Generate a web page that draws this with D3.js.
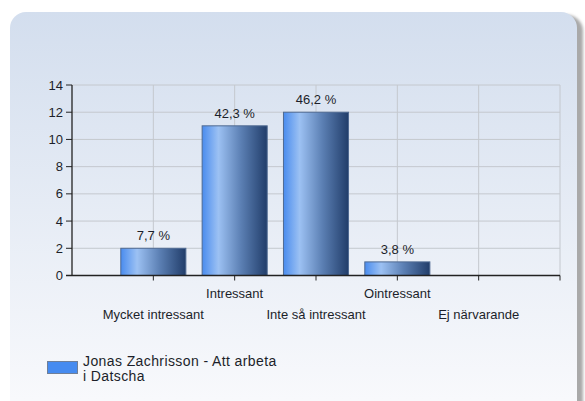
<!DOCTYPE html>
<html>
<head>
<meta charset="utf-8">
<script src="https://cdn.jsdelivr.net/npm/d3@7"></script>
<style>
  body { margin: 0; background: #fff; }
  text { font-family: "Liberation Sans", Arial, sans-serif; fill: #1c1f2a; }
</style>
</head>
<body>
<script>
// data
const categories = ["Mycket intressant", "Intressant", "Inte så intressant", "Ointressant", "Ej närvarande"];
const counts = [2, 11, 12, 1, 0];
const percentLabels = ["7,7 %", "42,3 %", "46,2 %", "3,8 %", ""];
const yTicks = [0, 2, 4, 6, 8, 10, 12, 14];
const seriesName = ["Jonas Zachrisson - Att arbeta", "i Datscha"];

const W = 585, H = 401;
const plot = { left: 72, right: 560, top: 85, bottom: 275.5 };

const svg = d3.select("body").append("svg")
  .attr("width", W)
  .attr("height", H);

const defs = svg.append("defs");

// panel gradient
const pg = defs.append("linearGradient").attr("id", "panelGrad")
  .attr("x1", 0).attr("y1", 0).attr("x2", 0).attr("y2", 1);
pg.append("stop").attr("offset", "0%").attr("stop-color", "#d3deee");
pg.append("stop").attr("offset", "90%").attr("stop-color", "#f8f9fc");

// bar gradient (horizontal)
const bg = defs.append("linearGradient").attr("id", "barGrad")
  .attr("x1", 0).attr("y1", 0).attr("x2", 1).attr("y2", 0);
bg.append("stop").attr("offset", "0%").attr("stop-color", "#4a8cee");
bg.append("stop").attr("offset", "25%").attr("stop-color", "#9cc1f3");
bg.append("stop").attr("offset", "60%").attr("stop-color", "#5b7fb3");
bg.append("stop").attr("offset", "100%").attr("stop-color", "#213d6a");

const blur = defs.append("filter").attr("id", "shadow")
  .attr("x", "-5%").attr("y", "-5%").attr("width", "110%").attr("height", "110%");
blur.append("feGaussianBlur").attr("stdDeviation", 1.5);

// panel with shadow
svg.append("rect")
  .attr("x", 15).attr("y", 15)
  .attr("width", 568).attr("height", 430)
  .attr("rx", 16)
  .attr("fill", "#a9a9a9")
  .attr("filter", "url(#shadow)");
svg.append("rect")
  .attr("x", 10).attr("y", 12)
  .attr("width", 567).attr("height", 430)
  .attr("rx", 16)
  .attr("fill", "url(#panelGrad)");

// scales
const x = d3.scalePoint()
  .domain(categories)
  .range([plot.left, plot.right])
  .padding(1);
const step = x.step();

const y = d3.scaleLinear()
  .domain([0, 14])
  .range([plot.bottom, plot.top]);

const g = svg.append("g");

// grid
g.selectAll(".hgrid")
  .data(yTicks.filter(d => d > 0))
  .enter().append("line")
  .attr("x1", plot.left).attr("x2", plot.right)
  .attr("y1", d => y(d)).attr("y2", d => y(d))
  .attr("stroke", "#c4c8ce").attr("stroke-width", 1);

const vTicks = categories.map(c => x(c)).concat([plot.right]);
g.selectAll(".vgrid")
  .data(vTicks)
  .enter().append("line")
  .attr("x1", d => d).attr("x2", d => d)
  .attr("y1", plot.top).attr("y2", plot.bottom)
  .attr("stroke", "#c4c8ce").attr("stroke-width", 1);

// bars
const barW = step * 0.8;
g.selectAll(".bar")
  .data(categories)
  .enter().append("rect")
  .attr("x", d => x(d) - barW / 2)
  .attr("y", (d, i) => y(counts[i]))
  .attr("width", barW)
  .attr("height", (d, i) => y(0) - y(counts[i]))
  .attr("fill", "url(#barGrad)")
  .attr("stroke", "#4f6a92")
  .attr("stroke-width", 1)
  .style("display", (d, i) => counts[i] > 0 ? null : "none");

// value labels
g.selectAll(".val")
  .data(categories)
  .enter().append("text")
  .attr("x", d => x(d))
  .attr("y", (d, i) => y(counts[i]) - 8)
  .attr("text-anchor", "middle")
  .style("font-size", "13px")
  .text((d, i) => percentLabels[i]);

// y axis
g.append("line")
  .attr("x1", plot.left).attr("x2", plot.left)
  .attr("y1", plot.top).attr("y2", plot.bottom)
  .attr("stroke", "#222").attr("stroke-width", 1.3);
g.selectAll(".ytick")
  .data(yTicks)
  .enter().append("line")
  .attr("x1", plot.left - 6).attr("x2", plot.left)
  .attr("y1", d => y(d)).attr("y2", d => y(d))
  .attr("stroke", "#222");
g.selectAll(".ylab")
  .data(yTicks)
  .enter().append("text")
  .attr("x", plot.left - 9)
  .attr("y", d => y(d) + 4.5)
  .attr("text-anchor", "end")
  .style("font-size", "13px")
  .text(d => d);

// x axis
g.append("line")
  .attr("x1", plot.left - 6).attr("x2", plot.right)
  .attr("y1", plot.bottom).attr("y2", plot.bottom)
  .attr("stroke", "#222").attr("stroke-width", 1.3);
g.selectAll(".xtick")
  .data(vTicks)
  .enter().append("line")
  .attr("x1", d => d).attr("x2", d => d)
  .attr("y1", plot.bottom).attr("y2", plot.bottom + 5)
  .attr("stroke", "#222");
g.selectAll(".xlab")
  .data(categories)
  .enter().append("text")
  .attr("x", d => x(d))
  .attr("y", (d, i) => i % 2 === 1 ? 297.5 : 318.5)
  .attr("text-anchor", "middle")
  .style("font-size", "13px")
  .text(d => d);

// legend
svg.append("rect")
  .attr("x", 47.5).attr("y", 361.5)
  .attr("width", 30).attr("height", 12)
  .attr("fill", "#468bf0")
  .attr("stroke", "#6f7f98");
svg.append("text")
  .attr("x", 83)
  .attr("y", 365.5)
  .style("font-size", "14px")
  .style("letter-spacing", "0.4px")
  .text(seriesName[0]);
svg.append("text")
  .attr("x", 83)
  .attr("y", 380.5)
  .style("font-size", "14px")
  .style("letter-spacing", "0.4px")
  .text(seriesName[1]);
</script>
</body>
</html>
